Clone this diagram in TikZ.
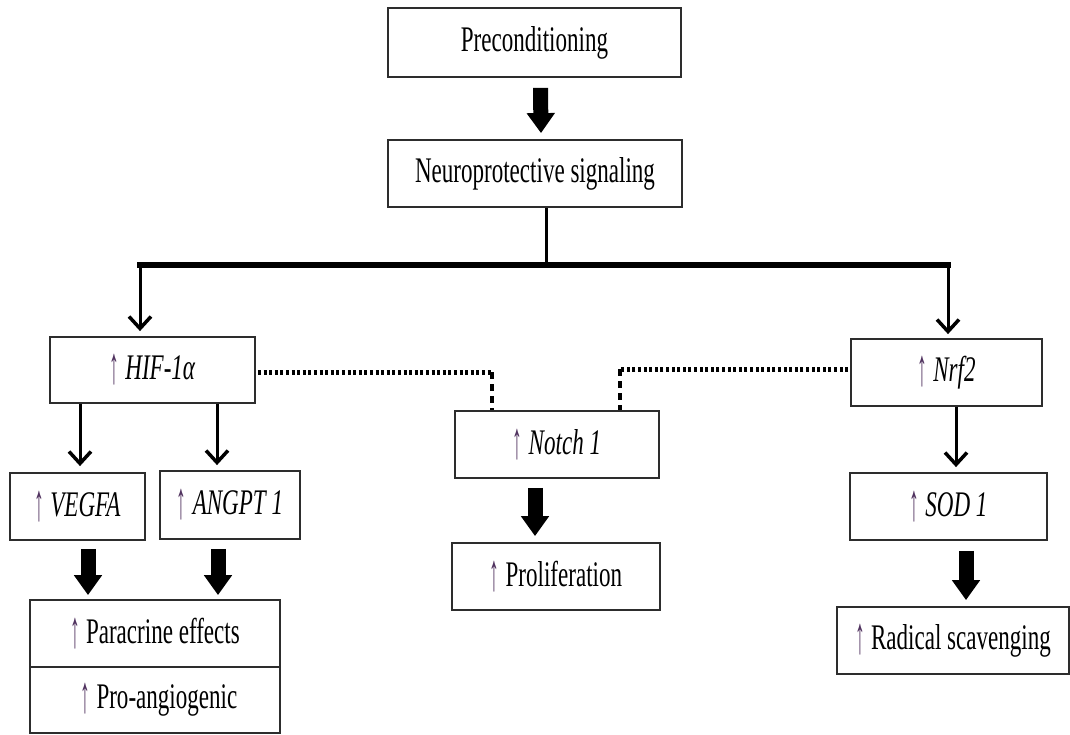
\documentclass[tikz,border=0pt]{standalone}
\usepackage{fontspec}
\setmainfont{Liberation Serif}[FakeStretch=0.64]
\usetikzlibrary{arrows.meta,calc}
\definecolor{upc}{RGB}{80,50,95}
\definecolor{edge}{RGB}{45,45,45}
\newcommand\upar{\raisebox{-4pt}{\color{upc}\scalebox{0.85}[1.45]{↑}}}
\begin{document}
\begin{tikzpicture}[x=1pt,y=-1pt,
  box/.style={draw=edge,line width=1.8pt,inner sep=0pt,fill=white,
    font=\fontsize{36}{38}\selectfont},
  thinarr/.style={line width=3pt,-{Straight Barb[length=12pt,width=22pt,line width=3.5pt]}},
  blk/.style={line width=15pt,-{Triangle[length=20pt,width=27pt]}},
  dotsH/.style={line width=5pt,dash pattern=on 3pt off 2.6pt},
  dashV/.style={line width=4pt,dash pattern=on 7pt off 5pt}]
\useasboundingbox (0,0) rectangle (1070,734);
\fill[white] (0,0) rectangle (1070,734);
% boxes
\node[box,minimum width=293pt,minimum height=69pt] (pre) at (534.5,42.5) {Preconditioning};
\node[box,minimum width=294pt,minimum height=67pt] (ns) at (535,173.5) {Neuroprotective signaling};
\node[box,minimum width=205pt,minimum height=66pt] (hif) at (152.5,370) {\upar\,\textit{HIF-1α}};
\node[box,minimum width=191pt,minimum height=67pt] (nrf) at (946.5,372.5) {\upar\,\textit{Nrf2}};
\node[box,minimum width=204pt,minimum height=67pt] (notch) at (557,444.5) {\upar\,\textit{Notch 1}};
\node[box,minimum width=135pt,minimum height=67pt] (vegfa) at (77.5,506.5) {\upar\,\textit{VEGFA}};
\node[box,minimum width=140pt,minimum height=68pt] (angpt) at (230,505) {\upar\,\textit{ANGPT 1}};
\node[box,minimum width=250pt,minimum height=67pt] (para) at (155,633.5) {\upar\,Paracrine effects};
\node[box,minimum width=250pt,minimum height=66pt] (proang) at (155,700) {\hspace{8pt}\upar\,Pro-angiogenic};
\node[box,minimum width=208pt,minimum height=67pt] (prolif) at (556,576.5) {\upar\,Proliferation};
\node[box,minimum width=197pt,minimum height=67pt] (sod) at (948.5,506.5) {\upar\,\textit{SOD 1}};
\node[box,minimum width=232pt,minimum height=67pt] (rad) at (953,640.5) {\upar\,Radical scavenging};
% top block arrow
\draw[blk] ($(pre.south)+(6,10)$) -- ($(ns.north)+(6,-6)$);
% tree
\coordinate (barL) at (137,265);
\coordinate (barR) at (951,265);
\draw[line width=3pt] ($(ns.south)+(11,0)$) -- ($(ns.south)+(11,58)$);
\draw[line width=6pt] (barL) -- (barR);
\draw[thinarr] ($(barL)+(3,0)$) -- ($(hif.north)+(-12.5,-5)$);
\draw[thinarr] ($(barR)+(-3,0)$) -- ($(nrf.north)+(1.5,-4)$);
% HIF children
\draw[thinarr] ($(hif.south)+(-72.5,0)$) -- ($(vegfa.north)+(2.5,-6)$);
\draw[thinarr] ($(hif.south)+(64.5,0)$) -- ($(angpt.north)+(-13,-5)$);
\draw[blk] ($(vegfa.south)+(10.5,8)$) -- ($(para.north)+(-67,-4)$);
\draw[blk] ($(angpt.south)+(-12,9)$) -- ($(para.north)+(63,-4)$);
% Notch
\coordinate (dl) at (492,372);
\coordinate (dr) at (620,369);
\draw[dotsH] ($(hif.east)+(2,2)$) -- (dl);
\draw[dashV] (dl) -- (dl |- notch.north);
\draw[dotsH] ($(nrf.west)+(-2,-3.5)$) -- (dr);
\draw[dashV] (dr) -- (dr |- notch.north);
\draw[blk] ($(notch.south)+(-22,9)$) -- ($(prolif.north)+(-21,-6)$);
% Nrf2
\draw[thinarr] ($(nrf.south)+(9.5,0)$) -- ($(sod.north)+(7.5,-5)$);
\draw[blk] ($(sod.south)+(17.5,10)$) -- ($(rad.north)+(13,-6)$);
\end{tikzpicture}
\end{document}
